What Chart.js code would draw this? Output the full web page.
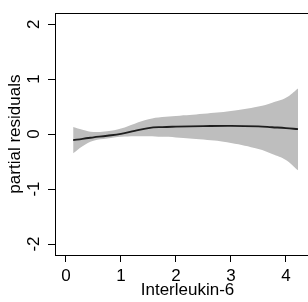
<!DOCTYPE html>
<html>
<head>
<meta charset="utf-8">
<script src="https://cdn.jsdelivr.net/npm/chart.js@4"></script>
<style>
  html, body { margin: 0; padding: 0; background: #fff; overflow: hidden; }
  #wrap { width: 308px; height: 302px; overflow: hidden; }
  canvas { display: block; }
</style>
</head>
<body>
<div id="wrap"><canvas id="residChart" width="320" height="302"></canvas></div>
<script>
// values
const xVals  = [0.13, 0.3, 0.5, 0.75, 1.0, 1.25, 1.5, 1.75, 2.0, 2.5, 3.0, 3.5, 3.75, 4.0, 4.22];
const fitY   = [-0.11, -0.085, -0.06, -0.03, 0.005, 0.06, 0.11, 0.128, 0.135, 0.145, 0.15, 0.14, 0.125, 0.11, 0.09];
const upperY = [0.13, 0.08, 0.04, 0.05, 0.10, 0.19, 0.27, 0.31, 0.33, 0.37, 0.42, 0.50, 0.57, 0.66, 0.83];
const lowerY = [-0.35, -0.22, -0.12, -0.08, -0.05, -0.04, -0.04, -0.05, -0.06, -0.10, -0.16, -0.27, -0.36, -0.47, -0.66];
const xTicks = [0, 1, 2, 3, 4];
const yTicks = [-2, -1, 0, 1, 2];

const FONT = '"Liberation Sans", Arial, sans-serif';

function pts(ys) {
    return xVals.map((x, i) => ({ x: x, y: ys[i] }));
}

// top border of the box + y labels rotated like R's default
const boxAndLabels = {
    id: 'boxAndLabels',
    afterDraw(chart) {
        const ctx = chart.ctx;
        const area = chart.chartArea;
        const ys = chart.scales.y;
        ctx.save();
        ctx.strokeStyle = '#000';
        ctx.lineWidth = 1;
        ctx.beginPath();
        ctx.moveTo(area.left, Math.round(area.top) + 0.5);
        ctx.lineTo(area.right, Math.round(area.top) + 0.5);
        ctx.stroke();

        ctx.fillStyle = '#000';
        ctx.font = '17px ' + FONT;
        ctx.textAlign = 'center';
        ctx.textBaseline = 'alphabetic';
        yTicks.forEach(v => {
            ctx.save();
            ctx.translate(39, ys.getPixelForValue(v));
            ctx.rotate(-Math.PI / 2);
            ctx.fillText(String(v), 0, 0);
            ctx.restore();
        });
        ctx.restore();
    }
};

new Chart(document.getElementById('residChart'), {
    type: 'line',
    data: {
        datasets: [
            {
                // fitted curve, drawn on top (lowest order)
                data: pts(fitY),
                order: 0,
                borderWidth: 1.8,
                borderColor: '#1e1e1e',
                pointRadius: 0,
                fill: false,
                tension: 0.4
            },
            {
                data: pts(lowerY),
                order: 1,
                borderWidth: 0,
                borderColor: 'rgba(0,0,0,0)',
                pointRadius: 0,
                fill: false,
                tension: 0.4
            },
            {
                data: pts(upperY),
                order: 2,
                borderWidth: 0,
                borderColor: 'rgba(0,0,0,0)',
                backgroundColor: '#bebebe',
                pointRadius: 0,
                fill: 1,
                tension: 0.4
            }
        ]
    },
    options: {
        responsive: false,
        animation: false,
        layout: { padding: { top: 6, right: 0, left: 0, bottom: 0 } },
        plugins: { legend: { display: false }, tooltip: { enabled: false } },
        scales: {
            x: {
                type: 'linear',
                min: -0.2,
                max: 4.62,
                afterBuildTicks: s => { s.ticks = xTicks.map(v => ({ value: v })); },
                afterFit: s => { s.height = 47; },
                grid: { drawOnChartArea: false, drawTicks: true, tickLength: 7, color: '#000' },
                border: { display: true, color: '#000', width: 1 },
                ticks: { color: '#000', font: { family: FONT, size: 17 }, padding: 4, maxRotation: 0 },
                title: {
                    display: true,
                    text: 'Interleukin-6',
                    color: '#000',
                    font: { family: FONT, size: 17 },
                    padding: { top: 0, bottom: 1 }
                }
            },
            y: {
                type: 'linear',
                min: -2.2,
                max: 2.2,
                afterBuildTicks: s => { s.ticks = yTicks.map(v => ({ value: v })); },
                afterFit: s => { s.width = 55; },
                grid: { drawOnChartArea: false, drawTicks: true, tickLength: 7, color: '#000' },
                border: { display: true, color: '#000', width: 1 },
                ticks: { display: true, color: 'rgba(0,0,0,0)', font: { family: FONT, size: 17 } },
                title: {
                    display: true,
                    text: 'partial residuals',
                    color: '#000',
                    font: { family: FONT, size: 17 },
                    padding: { top: 5, bottom: 0 }
                }
            }
        }
    },
    plugins: [boxAndLabels]
});
</script>
</body>
</html>
